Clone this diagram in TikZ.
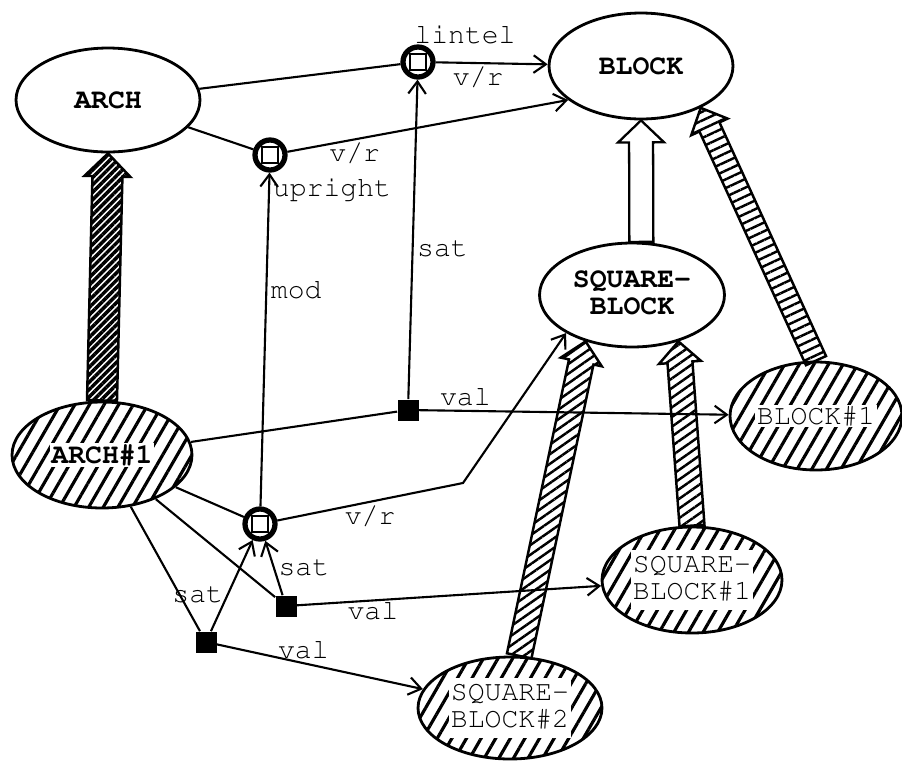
\documentclass[tikz,border=0pt]{standalone}
\usepackage[T1]{fontenc}
\renewcommand{\familydefault}{pcr}
\usetikzlibrary{shapes.geometric, arrows.meta, positioning, calc, patterns.meta}

% breiter Pfeil mit offener Spitze: #1 Stil, #2 von, #3 nach, #4 halbe Breite, #5 halbe Spitzenbreite, #6 Spitzenlaenge
\newcommand{\isaband}[6]{%
  \coordinate (isaA) at (#2);
  \coordinate (isaB) at (#3);
  \coordinate (isaC) at ($(isaB)!#6!(isaA)$);
  \draw[#1] ($(isaA)!#4!90:(isaB)$) -- ($(isaC)!#4!90:(isaB)$) -- ($(isaC)!#5!90:(isaB)$) -- (isaB)
    -- ($(isaC)!#5!-90:(isaB)$) -- ($(isaC)!#4!-90:(isaB)$) -- ($(isaA)!#4!-90:(isaB)$) -- cycle;}
\newcommand{\twoline}[2]{\begin{tabular}{@{}c@{}}#1\\[-2pt]#2\end{tabular}}
\newcommand{\onwhite}[1]{{\setlength{\fboxsep}{1pt}\colorbox{white}{#1}}}

\begin{document}
\begin{tikzpicture}[x=0.02cm, y=-0.02cm,
      concept/.style={draw, ellipse, line width=1.6pt, minimum width=3.68cm, minimum height=2.08cm,
                      inner sep=0pt, font=\fontsize{16}{17}\selectfont\bfseries},
      inst/.style={concept, font=\fontsize{16}{17}\selectfont,
                   pattern={Lines[angle=60, distance=7.2pt, line width=1.8pt]}},
      hub/.style={draw, circle, line width=3pt, minimum size=0.6cm, inner sep=0pt,
                  path picture={\draw[line width=0.9pt] ($(path picture bounding box.center)+(-4.5pt,-4.5pt)$) rectangle ++(9pt,9pt);}},
      dot/.style={fill, rectangle, minimum size=0.42cm, inner sep=0pt},
      arr/.style={line width=1.2pt},
      ptr/.style={arr, -{Straight Barb[length=7pt, width=10pt]}},
      lbl/.style={font=\fontsize{16}{17}\selectfont, inner sep=2pt},
      isa/.style n args={2}{line width=1.4pt, pattern={Lines[angle=#1, distance=#2, line width=1.4pt]}},
      hollow/.style={line width=1.3pt, fill=white}
    ]
    \useasboundingbox (0,0) rectangle (902,762);

    % Konzepte
    \node[concept] (arch)    at (108,100) {ARCH};
    \node[concept, minimum height=2.12cm] (block) at (641,66) {BLOCK};
    \node[concept, minimum width=3.7cm] (sqblock) at (632,295) {\twoline{SQUARE-}{BLOCK}};

    % Instanzen
    \node[inst, minimum width=3.6cm, minimum height=2.12cm, font=\fontsize{16}{17}\selectfont\bfseries]
      (arch1) at (102,455) {\onwhite{ARCH\#1}};
    \node[inst, minimum width=3.44cm, minimum height=2.16cm] (block1) at (816,416) {\onwhite{BLOCK\#1}};
    \node[inst, minimum width=3.6cm, minimum height=2.12cm] (sqblock1) at (692,580) {\onwhite{\twoline{SQUARE-}{BLOCK\#1}}};
    \node[inst, minimum height=2.04cm] (sqblock2) at (510,708) {\onwhite{\twoline{SQUARE-}{BLOCK\#2}}};

    % Verbindungsknoten
    \node[hub] (lintel)  at (418,62)  {};
    \node[hub] (upright) at (270,155) {};
    \node[hub] (hub3)    at (260,524) {};
    \node[dot] (sat1) at (408,410) {};
    \node[dot] (sat2) at (286,606) {};
    \node[dot] (sat3) at (206,642) {};
    \coordinate (bend) at (463,483);

    \node[lbl] (lintel-lbl)  at (465,35)  {lintel};
    \node[lbl] (upright-lbl) at (332,190) {upright};

    % Kanten
    \draw[arr] (arch) -- (lintel);
    \draw[ptr] (lintel) -- node[lbl, pos=0.38, below] {v/r} (block);
    \draw[arr] (arch) -- (upright);
    \draw[ptr] (upright) -- node[lbl, pos=0.24, below] {v/r} (block.205);
    \draw[ptr] (hub3) -- node[lbl, pos=0.65, right] {mod} (upright);
    \draw[ptr] (sat1) -- node[lbl, pos=0.47, right] {sat} (lintel);
    \draw[arr] (arch1) -- (sat1);
    \draw[ptr] (sat1) -- node[lbl, pos=0.15, above] {val} (block1);
    \draw[arr] (arch1) -- (hub3);
    \draw[ptr] (hub3) -- node[lbl, pos=0.5, below] {v/r} (bend) -- (sqblock.210);
    \draw[arr] (arch1) -- (sat2);
    \draw[ptr] (sat2) -- node[lbl, pos=0.5, right] {sat} (hub3);
    \draw[ptr] (sat2) -- node[lbl, pos=0.25, below, inner sep=0pt] {val} (sqblock1);
    \draw[arr] (arch1) -- (sat3);
    \draw[ptr] (sat3) -- node[lbl, pos=0.4, left] {sat} (hub3);
    \draw[ptr] (sat3) -- node[lbl, pos=0.42, above] {val} (sqblock2);

    % Instanz- und Teilmengenpfeile
    \isaband{isa={45}{3pt}, pattern={Lines[angle=45, distance=3pt, line width=2pt]}}{arch1.north}{arch.south}{0.3cm}{0.46cm}{0.46cm}
    \isaband{isa={25}{4.5pt}}{block1.north}{block.325}{0.22cm}{0.4cm}{0.42cm}
    \isaband{isa={35}{4.5pt}}{sqblock1.north}{sqblock.315}{0.25cm}{0.42cm}{0.42cm}
    \isaband{isa={35}{4.5pt}}{sqblock2.80}{sqblock.225}{0.25cm}{0.42cm}{0.42cm}
    \isaband{hollow}{sqblock.80}{block.south}{0.24cm}{0.46cm}{0.44cm}
  \end{tikzpicture}
\end{document}
